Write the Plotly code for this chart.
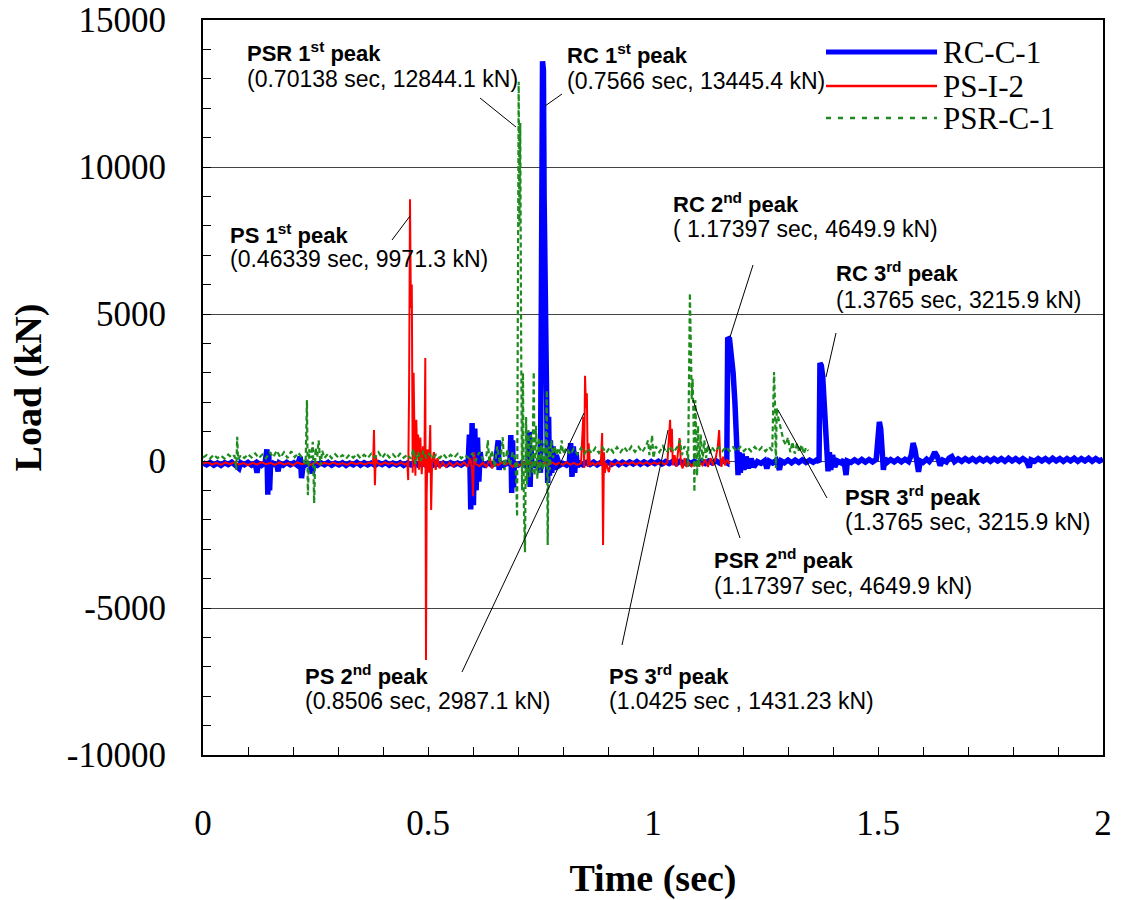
import plotly.graph_objects as go

# ---------------- data ----------------
rc_t = [0.000,0.008,0.016,0.024,0.032,0.040,0.048,0.056,0.064,0.072,0.080,0.084,0.092,0.100,0.108,0.116,0.120,0.123,0.130,0.138,
        0.142,0.144,0.146,0.148,0.150,0.156,0.164,0.167,0.170,0.178,0.186,0.194,0.202,0.210,0.216,0.219,0.222,0.230,0.238,0.243,
        0.246,0.254,0.262,0.270,0.278,0.286,0.294,0.302,0.310,0.318,0.326,0.334,0.342,0.350,0.358,0.366,0.374,0.382,0.390,0.398,
        0.406,0.414,0.422,0.430,0.438,0.446,0.454,0.462,0.470,0.478,0.486,0.494,0.502,0.510,0.518,0.526,0.534,0.542,0.550,0.558,
        0.566,0.574,0.582,0.589,0.592,0.595,0.598,0.601,0.604,0.607,0.610,0.613,0.616,0.619,0.626,0.634,0.642,0.650,0.654,0.656,
        0.658,0.661,0.668,0.676,0.682,0.684,0.686,0.688,0.690,0.692,0.700,0.708,0.716,0.722,0.725,0.727,0.729,0.731,0.738,0.745,
        0.750,0.752,0.7545,0.7565,0.758,0.760,0.762,0.764,0.766,0.768,0.770,0.772,0.775,0.778,0.781,0.785,0.792,0.800,0.808,0.814,
        0.817,0.820,0.823,0.826,0.829,0.832,0.836,0.844,0.852,0.860,0.868,0.876,0.884,0.892,0.900,0.908,0.916,0.924,0.932,0.940,
        0.948,0.956,0.964,0.972,0.980,0.988,0.996,1.004,1.012,1.020,1.028,1.036,1.044,1.052,1.060,1.068,1.076,1.084,1.092,1.100,
        1.108,1.116,1.124,1.132,1.140,1.148,1.156,1.164,1.166,1.170,1.174,1.178,1.182,1.185,1.187,1.189,1.191,1.194,1.198,1.202,
        1.207,1.212,1.218,1.224,1.232,1.240,1.248,1.253,1.258,1.266,1.274,1.281,1.285,1.292,1.300,1.308,1.316,1.324,1.332,1.340,
        1.348,1.356,1.364,1.369,1.371,1.374,1.377,1.380,1.383,1.386,1.389,1.392,1.395,1.399,1.404,1.410,1.418,1.424,1.429,1.432,
        1.440,1.448,1.456,1.464,1.472,1.480,1.488,1.496,1.500,1.503,1.506,1.509,1.512,1.515,1.520,1.528,1.536,1.544,1.552,1.560,
        1.568,1.574,1.578,1.582,1.586,1.590,1.594,1.600,1.608,1.614,1.620,1.626,1.632,1.638,1.644,1.652,1.658,1.664,1.670,1.678,
        1.686,1.694,1.702,1.710,1.718,1.726,1.734,1.742,1.750,1.758,1.766,1.774,1.782,1.790,1.798,1.806,1.814,1.822,1.830,1.836,
        1.840,1.848,1.856,1.864,1.872,1.880,1.888,1.896,1.904,1.912,1.920,1.928,1.936,1.944,1.952,1.960,1.968,1.976,1.984,1.992,2.000]
rc_load = [-60,-130,-50,-140,-70,-150,-60,-120,-40,-150,-250,-60,-130,-50,-140,-70,-400,-80,-150,-60,
           400,-1150,300,-1000,-200,-80,-150,-350,-70,-140,-50,-130,-60,-150,150,-580,-200,-90,-140,-420,
           -100,-150,-60,-130,-50,-140,-70,-130,-60,-150,-70,-130,-50,-140,-60,-130,-70,-150,-60,-120,
           -50,-140,-70,-130,-60,-150,-70,-130,-60,-140,-50,-130,-70,-150,-60,-130,-70,-140,-60,-130,
           -70,-140,-60,-120,900,-1650,1290,-1500,1100,-1000,800,-700,300,-100,-150,-60,-140,-80,300,700,
           -300,-60,-150,-70,-100,880,-1090,700,-900,-100,-140,-60,-150,-60,990,-880,400,-100,-150,-60,
           -400,5000,13600,13300,9000,6000,4000,2400,-750,1500,-500,700,-400,500,-300,200,-150,-80,-140,-60,
           610,-540,500,-400,300,-200,-60,-130,-50,-120,-40,-130,-50,-120,-40,-110,-30,-120,-40,-110,
           -30,-100,-20,-110,-30,-100,-20,-90,-10,-100,-20,-90,-10,-90,-10,-80,0,-90,-10,-80,
           0,-80,0,-70,10,-70,10,-60,4200,4150,3700,3000,2000,1100,650,-480,300,-400,250,-300,
           150,-250,80,-200,-20,-80,10,-250,0,-70,20,-300,0,-60,30,-60,30,-50,40,-50,
           30,-40,40,-40,3330,3250,2900,2200,1300,600,-350,300,-300,200,-200,0,-60,40,-480,0,
           -50,40,-40,50,-40,50,-30,50,600,1330,1100,400,-300,100,-50,50,-30,60,-30,60,
           -20,200,610,400,-100,-370,0,-50,60,-20,100,300,150,-150,30,-30,100,150,-20,70,
           -10,80,0,80,-10,80,0,80,-10,80,0,80,-10,90,0,80,-10,80,0,-220,
           40,-10,80,0,80,-10,90,0,80,-10,80,0,90,-10,80,0,90,-10,80,0,60]

ps_t = [0.000,0.010,0.020,0.030,0.040,0.050,0.060,0.070,0.080,0.090,0.100,0.110,0.120,0.130,0.140,0.150,0.160,0.170,0.180,0.190,
        0.200,0.210,0.220,0.230,0.240,0.250,0.260,0.270,0.280,0.290,0.300,0.310,0.320,0.330,0.340,0.350,0.360,0.370,0.378,0.380,
        0.382,0.384,0.387,0.395,0.405,0.412,0.420,0.430,0.440,0.448,0.454,0.456,0.458,0.460,0.462,0.464,0.466,0.468,0.470,0.472,
        0.474,0.476,0.478,0.480,0.483,0.486,0.489,0.492,0.494,0.4955,0.497,0.499,0.502,0.505,0.507,0.509,0.513,0.517,0.521,0.526,
        0.532,0.540,0.548,0.556,0.564,0.572,0.580,0.588,0.594,0.598,0.600,0.602,0.606,0.614,0.622,0.630,0.638,0.642,0.648,0.656,
        0.664,0.672,0.680,0.688,0.696,0.704,0.712,0.720,0.728,0.736,0.744,0.752,0.760,0.768,0.776,0.784,0.792,0.800,0.808,0.816,
        0.824,0.832,0.840,0.845,0.847,0.849,0.851,0.853,0.855,0.857,0.860,0.866,0.872,0.878,0.884,0.887,0.889,0.891,0.893,0.896,
        0.902,0.906,0.914,0.922,0.930,0.938,0.946,0.954,0.962,0.970,0.978,0.986,0.994,1.002,1.010,1.018,1.026,1.032,1.035,1.038,
        1.040,1.042,1.044,1.048,1.052,1.056,1.059,1.062,1.066,1.070,1.074,1.080,1.086,1.092,1.098,1.104,1.110,1.116,1.122,1.128,
        1.134,1.140,1.144,1.147,1.149,1.152,1.156,1.160,1.165,1.170]
ps_load = [-100,-40,-120,-60,-130,-50,-110,-40,-120,-70,-140,-60,-120,-40,-110,-60,-130,-50,-120,-70,
           -140,-50,-110,-60,-130,-40,-120,-60,-110,-50,-120,-70,-130,-50,-110,-60,-120,-50,-90,1050,
           -820,150,-60,-120,-50,-110,-60,-130,-50,-120,-60,-650,2500,8900,5200,6000,-400,3000,800,-500,
           1400,200,900,-300,800,-450,500,-200,3500,-6770,-1200,400,-400,1220,-1670,-100,300,-300,100,-250,
           -40,-200,-50,-180,-60,-150,-40,-200,100,-300,-1200,300,-100,-180,-60,-200,100,-250,-60,-150,
           -40,-130,-50,-200,-60,-150,-40,-130,-60,-140,-50,-130,-60,-140,-50,-120,-60,-130,-40,-120,
           -60,-130,-80,1500,-240,2900,1800,2300,-200,600,-150,-60,-140,-50,-130,950,-2860,300,-400,-80,
           -380,-60,-130,-40,-120,-50,-110,-40,-120,-50,-110,-40,-120,-50,-110,-40,-120,-50,700,1400,
           300,1100,-150,200,-200,300,780,-100,-250,100,-200,-50,-180,-30,-200,-40,-150,50,-200,100,
           -150,150,500,1050,200,-200,150,-150,50,-100]

psr_t = [0.000,0.008,0.016,0.024,0.032,0.040,0.048,0.056,0.064,0.070,0.074,0.076,0.078,0.084,0.092,0.100,0.108,0.116,0.124,0.132,
         0.140,0.148,0.156,0.164,0.172,0.180,0.188,0.196,0.204,0.212,0.220,0.228,0.231,0.233,0.236,0.240,0.244,0.247,0.250,0.254,
         0.257,0.261,0.265,0.270,0.278,0.286,0.294,0.302,0.310,0.318,0.326,0.334,0.342,0.350,0.358,0.366,0.374,0.382,0.390,0.398,
         0.406,0.414,0.422,0.430,0.438,0.446,0.454,0.462,0.468,0.472,0.478,0.484,0.490,0.496,0.502,0.510,0.518,0.526,0.534,0.542,
         0.550,0.558,0.566,0.574,0.582,0.590,0.598,0.606,0.614,0.622,0.630,0.633,0.636,0.642,0.648,0.654,0.660,0.666,0.670,0.676,
         0.682,0.688,0.693,0.696,0.698,0.700,0.7015,0.703,0.705,0.707,0.709,0.711,0.713,0.7155,0.718,0.720,0.723,0.726,0.729,0.732,
         0.735,0.737,0.740,0.743,0.746,0.749,0.752,0.755,0.758,0.761,0.764,0.766,0.768,0.771,0.774,0.778,0.782,0.786,0.790,0.794,
         0.797,0.800,0.808,0.816,0.824,0.832,0.840,0.848,0.856,0.864,0.872,0.880,0.888,0.896,0.904,0.912,0.920,0.928,0.936,0.944,
         0.952,0.960,0.968,0.976,0.984,0.989,0.992,0.996,0.998,1.001,1.006,1.014,1.022,1.030,1.038,1.046,1.054,1.060,1.064,1.070,
         1.076,1.078,1.080,1.082,1.084,1.086,1.088,1.090,1.092,1.094,1.096,1.098,1.100,1.103,1.106,1.110,1.114,1.118,1.122,1.126,
         1.130,1.138,1.146,1.154,1.162,1.170,1.178,1.186,1.194,1.202,1.210,1.218,1.226,1.234,1.242,1.250,1.258,1.265,1.269,1.271,
         1.273,1.275,1.278,1.282,1.286,1.290,1.295,1.300,1.305,1.310,1.315,1.320,1.325,1.330,1.335,1.340,1.345]
psr_load = [120,200,90,210,100,180,80,220,110,190,-300,820,50,200,100,230,120,260,100,220,
            90,300,130,350,120,300,100,330,130,280,110,-100,2070,-1160,400,100,650,-1430,450,150,
            700,-150,350,100,250,90,230,100,200,80,220,110,240,90,210,100,250,120,300,100,
            280,120,230,90,250,110,220,80,400,-100,300,0,350,100,250,80,220,100,240,80,
            210,110,250,90,200,100,250,0,300,50,200,700,0,350,-200,500,-100,810,-310,400,
            -150,300,100,-600,-1900,5000,12900,8000,11500,4000,-1000,3000,-1500,-3100,1500,-800,1050,-540,900,-400,
            3030,-500,1200,-600,800,-400,700,-300,600,-200,2400,-2860,500,-300,700,100,500,200,450,250,
            700,250,450,220,420,230,440,250,430,260,450,270,460,280,460,290,470,300,480,300,
            490,310,480,300,500,700,200,550,880,100,500,300,500,280,500,300,480,700,200,500,
            300,-200,3500,5710,4000,2100,2800,1500,-1050,2070,1000,-500,1200,-200,900,0,700,100,550,250,
            480,320,470,330,480,340,470,330,480,340,470,330,480,340,470,330,480,350,3030,2000,
            -240,1800,1500,1200,900,700,550,800,300,650,250,600,300,550,250,450,350]

series_names = ["RC-C-1", "PS-I-2", "PSR-C-1"]
series_colors = ["#0000FF", "#FF0000", "#1E8B1E"]

x_ticks = [0, 0.5, 1, 1.5, 2]
x_ticklabels = ["0", "0.5", "1", "1.5", "2"]
y_ticks = [-10000, -5000, 0, 5000, 10000, 15000]
y_ticklabels = ["-10000", "-5000", "0", "5000", "10000", "15000"]

peak_titles = ["PSR 1<sup>st</sup> peak", "RC 1<sup>st</sup> peak", "PS 1<sup>st</sup> peak",
               "RC 2<sup>nd</sup> peak", "RC 3<sup>rd</sup> peak", "PSR 3<sup>rd</sup> peak",
               "PSR 2<sup>nd</sup> peak", "PS 2<sup>nd</sup> peak", "PS 3<sup>rd</sup> peak"]
peak_values = ["(0.70138 sec, 12844.1 kN)", "(0.7566 sec, 13445.4 kN)", "(0.46339 sec, 9971.3 kN)",
               "( 1.17397 sec, 4649.9 kN)", "(1.3765 sec, 3215.9 kN)", "(1.3765 sec, 3215.9 kN)",
               "(1.17397 sec, 4649.9 kN)", "(0.8506 sec, 2987.1 kN)", "(1.0425 sec , 1431.23 kN)"]

# ---------------- layout geometry (pixels) ----------------
W, H = 1123, 900
L_, R_, T_, B_ = 203, 1103, 20, 755

def px(x):
    return (x - L_) / (R_ - L_)

def py(y):
    return (B_ - y) / (B_ - T_)

fig = go.Figure()
widths = [5.5, 2, 2.2]
dashes = ["solid", "solid", "5px,3px"]
for name, tt, yy, c, w, d in zip(series_names, [rc_t, ps_t, psr_t], [rc_load, ps_load, psr_load],
                                 series_colors, widths, dashes):
    fig.add_trace(go.Scatter(x=tt, y=yy, mode="lines", name=name,
                             line=dict(color=c, width=w, dash=d), showlegend=False))

# label positions (left x, line-1 centre y, line-2 centre y)
label_pos = [(245, 52, 79), (565, 54, 81), (228, 234, 259), (671, 203, 229), (834, 272, 300),
             (843, 496, 522), (712, 559, 586), (303, 675, 701), (607, 675, 701)]
annos = []
for title, val, (lx, y1, y2) in zip(peak_titles, peak_values, label_pos):
    annos.append(dict(x=px(lx), y=py(y1), xref="paper", yref="paper", text=title,
                      showarrow=False, xanchor="left", yanchor="middle",
                      font=dict(family="Liberation Sans, Arial", size=22, color="black", weight="bold")))
    annos.append(dict(x=px(lx), y=py(y2), xref="paper", yref="paper", text=val,
                      showarrow=False, xanchor="left", yanchor="middle",
                      font=dict(family="Liberation Sans, Arial", size=23, color="black")))

leaders = [((480, 98), (516, 127)), ((562, 94), (545, 106)), ((392, 240), (410, 216)),
           ((753, 265), (730, 337)), ((836, 333), (826, 377)), ((462, 672), (584, 413)),
           ((622, 645), (668, 430)), ((740, 538), (693, 400)), ((827, 498), (778, 410))]
shapes = []
for (x0, y0), (x1, y1) in leaders:
    shapes.append(dict(type="line", xref="paper", yref="paper", x0=px(x0), y0=py(y0), x1=px(x1), y1=py(y1),
                       line=dict(color="black", width=1)))

# manual legend (long line samples as in the reference)
leg_rows = [52, 86, 118]
for name, c, w, d, ry in zip(series_names, series_colors, [5, 2.5, 2.5], ["solid", "solid", "5px,7px"], leg_rows):
    shapes.append(dict(type="line", xref="paper", yref="paper", x0=px(826), x1=px(937), y0=py(ry), y1=py(ry),
                       line=dict(color=c, width=w, dash=d)))
    annos.append(dict(x=px(941), y=py(ry + 1), xref="paper", yref="paper", text=name, showarrow=False,
                      xanchor="left", yanchor="middle",
                      font=dict(family="Liberation Serif, Times New Roman", size=31, color="black")))

fig.update_layout(
    width=W, height=H, autosize=False,
    margin=dict(l=L_, r=W - R_, t=T_, b=H - B_, pad=0),
    plot_bgcolor="white", paper_bgcolor="white",
    annotations=annos, shapes=shapes,
    xaxis=dict(range=[0, 2], tickvals=x_ticks, ticktext=x_ticklabels, showgrid=False, zeroline=False,
               automargin=False,
               showline=True, linecolor="black", linewidth=2, mirror=True,
               ticks="inside", ticklen=8, tickcolor="black",
               minor=dict(dtick=0.1, ticks="inside", ticklen=8, tickcolor="black", showgrid=False),
               tickfont=dict(family="Liberation Serif, Times New Roman", size=35, color="black"),
               ticklabelstandoff=36,
               title=dict(text="Time (sec)", standoff=34,
                          font=dict(family="Liberation Serif, Times New Roman", size=38, color="black",
                                    weight="bold"))),
    yaxis=dict(range=[-10000, 15000], tickvals=y_ticks, ticktext=y_ticklabels, showgrid=True,
               gridcolor="#444444", gridwidth=1, zeroline=False, automargin=False,
               showline=True, linecolor="black", linewidth=2, mirror=True,
               ticks="inside", ticklen=8, tickcolor="black",
               minor=dict(dtick=1000, ticks="inside", ticklen=8, tickcolor="black", showgrid=False),
               tickfont=dict(family="Liberation Serif, Times New Roman", size=35, color="black"),
               ticklabelstandoff=28,
               title=dict(text="Load (kN)", standoff=14,
                          font=dict(family="Liberation Serif, Times New Roman", size=38, color="black",
                                    weight="bold"))),
)

fig.write_html("out.html", config={"displayModeBar": False},
               post_script="document.body.style.margin='0';document.body.style.overflow='hidden';")
